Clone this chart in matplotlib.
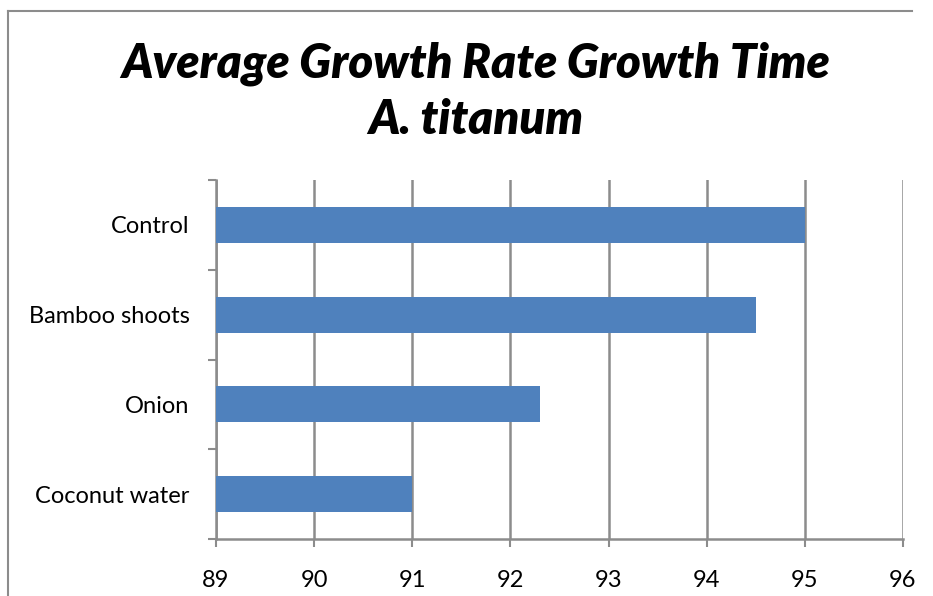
import matplotlib.pyplot as plt
import numpy as np

categories = ['Control', 'Bamboo shoots', 'Onion', 'Coconut water']
values = [95.0, 94.5, 92.3, 91.0]
xticks = [89, 90, 91, 92, 93, 94, 95, 96]

plt.rcParams['font.family'] = ['Lato', 'DejaVu Sans']

fig = plt.figure(figsize=(9.33, 5.96), dpi=100)

grey = '#8c8c8c'
blue = '#4f81bd'

# chart area border: only the left and top edges are in view
bg = fig.add_axes([0, 0, 1, 1], zorder=-1)
bg.set_xlim(0, 933)
bg.set_ylim(596, 0)
bg.axis('off')
bg.plot([7.5, 7.5], [600, 10.5], color=grey, linewidth=1.5, clip_on=False)
bg.plot([7.5, 912], [10.5, 10.5], color=grey, linewidth=1.5, clip_on=False)

ax = fig.add_axes([0.2315, 0.0956, 0.7363, 0.6024])
ax.patch.set_alpha(0)

y = np.arange(len(categories))[::-1]
ax.barh(y, [v - 89 for v in values], left=89, height=0.4, color=blue, zorder=3)

ax.set_xlim(89, 96)
ax.set_ylim(-0.5, len(categories) - 0.5)
ax.set_xticks(xticks)
ax.set_xticklabels([str(t) for t in xticks], fontsize=17)
ax.set_yticks(y)
ax.set_yticklabels(categories, fontsize=17)
ax.set_yticks(np.arange(len(categories) + 1) - 0.5, minor=True)

ax.grid(axis='x', color=grey, linewidth=1.8, zorder=0)
ax.tick_params(axis='y', which='major', length=0, pad=19)
ax.tick_params(axis='y', which='minor', length=6, color=grey, width=1.5)
ax.tick_params(axis='x', length=6, color=grey, width=1.5, pad=16)

for s in ['top', 'right']:
    ax.spines[s].set_visible(False)
for s in ['left', 'bottom']:
    ax.spines[s].set_color(grey)
    ax.spines[s].set_linewidth(1.8)

fig.text(0.51, 0.893, 'Average Growth Rate Growth Time', ha='center', va='center',
         fontsize=34, fontweight='heavy', fontstyle='italic')
fig.text(0.51, 0.798, 'A. titanum', ha='center', va='center',
         fontsize=34, fontweight='heavy', fontstyle='italic')

fig.savefig('out.png', dpi=100)
